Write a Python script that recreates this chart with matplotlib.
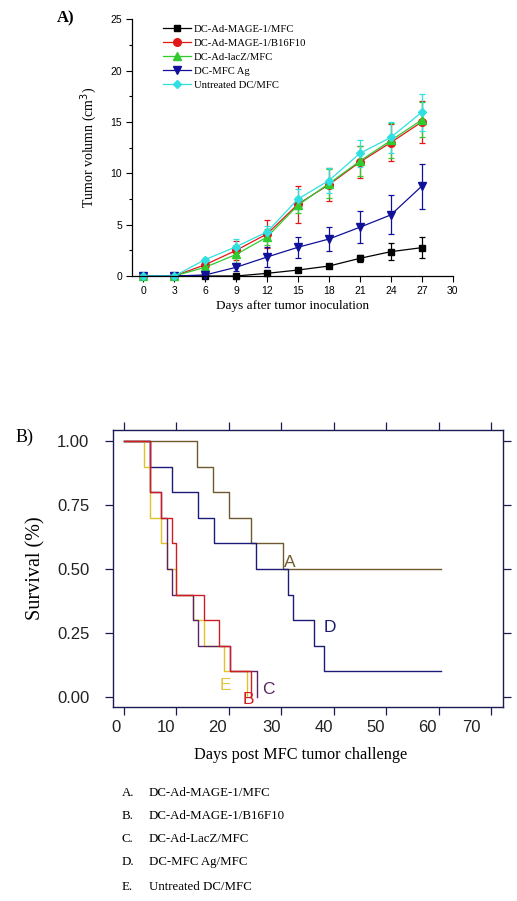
import matplotlib
matplotlib.use("Agg")
import matplotlib.pyplot as plt
import matplotlib.transforms as mtransforms
from matplotlib.lines import Line2D
import numpy as np

# ---------------- Panel A data ----------------
days = [0, 3, 6, 9, 12, 15, 18, 21, 24, 27]
series_names = ["DC-Ad-MAGE-1/MFC", "DC-Ad-MAGE-1/B16F10", "DC-Ad-lacZ/MFC",
                "DC-MFC Ag", "Untreated DC/MFC"]
mage_mfc = [0, 0, 0, 0, 0.26, 0.58, 0.97, 1.72, 2.37, 2.76]
mage_mfc_err = [0, 0, 0, 0, 0.1, 0.15, 0.2, 0.37, 0.8, 1.0]
mage_b16 = [0, 0, 1.1, 2.5, 4.1, 7.0, 8.9, 11.1, 13.0, 15.0]
mage_b16_err = [0, 0, 0.3, 0.9, 1.4, 1.8, 1.6, 1.6, 1.8, 2.0]
lacz = [0, 0, 0.85, 2.1, 3.8, 6.9, 9.0, 11.2, 13.2, 15.2]
lacz_err = [0, 0, 0.3, 0.9, 0.8, 0.8, 1.4, 1.5, 1.7, 1.7]
mfc_ag = [0, 0, 0.1, 0.85, 1.85, 2.8, 3.6, 4.75, 5.95, 8.75]
mfc_ag_err = [0, 0, 0.1, 0.4, 1.0, 1.0, 1.2, 1.55, 1.9, 2.2]
untreated = [0, 0, 1.6, 2.85, 4.3, 7.5, 9.3, 11.95, 13.5, 15.95]
untreated_err = [0, 0, 0.2, 0.8, 0.6, 1.0, 1.2, 1.3, 1.5, 1.8]

# ---------------- Panel B data ----------------
A_t = [0, 14, 17, 20, 24.3, 30.3, 60.5]
A_s = [1.0, 0.9, 0.8, 0.7, 0.6, 0.5, 0.5]
B_t = [0, 5, 7, 9.1, 10, 15.3, 18.1, 20.2, 24.2]
B_s = [1.0, 0.8, 0.7, 0.6, 0.4, 0.3, 0.2, 0.1, 0.0]
C_t = [0, 5, 7.1, 8.2, 9.1, 13.2, 14.1, 20.2, 25.3]
C_s = [1.0, 0.8, 0.7, 0.5, 0.4, 0.3, 0.2, 0.1, 0.0]
D_t = [0, 5, 9.1, 14.1, 17.2, 25.2, 31.2, 32.2, 36.2, 38.1, 60.5]
D_s = [1.0, 0.9, 0.8, 0.7, 0.6, 0.5, 0.4, 0.3, 0.2, 0.1, 0.1]
E_t = [0, 3.9, 5, 7.1, 8.2, 10, 13.2, 15.3, 19.1, 23.5]
E_s = [1.0, 0.9, 0.7, 0.6, 0.5, 0.4, 0.3, 0.2, 0.1, 0.0]
curve_letters = ["A", "B", "C", "D", "E"]
legend_names = ["DC-Ad-MAGE-1/MFC", "DC-Ad-MAGE-1/B16F10", "DC-Ad-LacZ/MFC",
                "DC-MFC Ag/MFC", "Untreated DC/MFC"]
x_ticks_B = [0, 10, 20, 30, 40, 50, 60, 70]
y_ticks_B = [0.0, 0.25, 0.5, 0.75, 1.0]

W, H = 517, 901
fig = plt.figure(figsize=(W / 100, H / 100), dpi=100)
serif = "Liberation Serif"
sans = "Liberation Sans"

def fx(px):
    return px / W

def fy(py):
    return 1 - py / H

# ================= Panel A =================
axA = fig.add_axes([fx(131.7), fy(276), fx(452.7) - fx(131.7), fy(19.3) - fy(276)])
colorsA = ["#000000", "#e01818", "#2ecc2e", "#10109a", "#30e0e0"]
markers = ["s", "o", "^", "v", "D"]
msizes = [5, 5.5, 5.5, 5.5, 4.5]
ys = [mage_mfc, mage_b16, lacz, mfc_ag, untreated]
errs = [mage_mfc_err, mage_b16_err, lacz_err, mfc_ag_err, untreated_err]
handles = []
for name, y, e, c, m, ms in zip(series_names, ys, errs, colorsA, markers, msizes):
    axA.errorbar(days, y, yerr=e, color=c, marker=m, markersize=ms, lw=0.9,
                 elinewidth=0.9, capsize=2.5, capthick=0.9, clip_on=False)
    handles.append(Line2D([], [], color=c, marker=m, markersize=ms, lw=0.9, label=name))
axA.set_xlim(-1.13, 30)
axA.set_ylim(0, 25)
axA.set_xticks(list(range(0, 31, 3)))
axA.set_yticks([0, 5, 10, 15, 20, 25])
axA.set_yticks(np.arange(2.5, 25, 5), minor=True)
for s in ["top", "right"]:
    axA.spines[s].set_visible(False)
for s in ["left", "bottom"]:
    axA.spines[s].set_linewidth(0.9)
axA.tick_params(direction="out", length=4, width=0.8, labelsize=7.5, pad=3)
axA.tick_params(which="minor", direction="out", length=2.5, width=0.8)
for lab in axA.get_xticklabels() + axA.get_yticklabels():
    lab.set_fontfamily(sans)
axA.set_xlabel("Days after tumor inoculation", fontfamily=serif, fontsize=9.5, labelpad=3)
axA.set_ylabel("Tumor volumn (cm$^3$)", fontfamily=serif, fontsize=10, labelpad=8)
leg = axA.legend(handles=handles, loc="upper left", bbox_to_anchor=(fx(163), fy(24.5)),
                 bbox_transform=fig.transFigure, frameon=False,
                 prop={"family": serif, "size": 7.7}, handlelength=2.6,
                 handletextpad=0.3, labelspacing=0.42, borderpad=0, borderaxespad=0)
fig.text(fx(57), fy(18), "A)", fontfamily=serif, fontweight="bold", fontsize=12,
         va="center", ha="left")

# ================= Panel B =================
axB = fig.add_axes([fx(113), fy(707), fx(503) - fx(113), fy(430) - fy(707)])
colorsB = ["#6e5a2e", "#d01c24", "#5a2466", "#1c1c78", "#e2c22a"]
label_colors = ["#6e5a2e", "#d01c24", "#5a2466", "#1c1c78", "#e0c440"]
tt = [A_t, B_t, C_t, D_t, E_t]
ss = [A_s, B_s, C_s, D_s, E_s]
order = [0, 3, 4, 2, 1]
for i in order:
    axB.step(tt[i], ss[i], where="post", color=colorsB[i], lw=1.0)
lab_pos = [(31.7, 0.527), (23.8, -0.01), (27.6, 0.03), (39.3, 0.27), (19.4, 0.045)]
for letter, (x, y), c in zip(curve_letters, lab_pos, label_colors):
    axB.text(x, y, letter, color=c, fontfamily=sans, fontsize=12.5, ha="center", va="center")
axB.set_xlim(-2.1, 72.3)
axB.set_ylim(-0.039, 1.043)
axB.set_xticks(x_ticks_B)
axB.set_yticks(y_ticks_B)
axB.set_yticklabels(["%.2f" % v for v in y_ticks_B])
spine_c = "#1a1a55"
for s in axB.spines.values():
    s.set_color(spine_c)
    s.set_linewidth(1.0)
axB.tick_params(direction="out", length=5.5, width=0.9, color=spine_c,
                top=True, right=True, labelsize=12, labelcolor="#222222")
axB.tick_params(axis="y", pad=11.5)
axB.tick_params(axis="x", pad=3.5)
xoffs = [-8, -10, -11, -10, -10, -10, -11, -20]
for lab, off in zip(axB.get_xticklabels(), xoffs):
    lab.set_fontfamily(sans)
    lab.set_transform(lab.get_transform() +
                      mtransforms.ScaledTranslation(off / 100, 0, fig.dpi_scale_trans))
for lab in axB.get_yticklabels():
    lab.set_fontfamily(sans)
axB.set_ylabel("Survival (%)", fontfamily=serif, fontsize=14.5, labelpad=8)
fig.text(fx(301), fy(755), "Days post MFC tumor challenge", fontfamily=serif,
         fontsize=11.7, ha="center", va="center")
fig.text(fx(16), fy(437), "B)", fontfamily=serif, fontsize=13, ha="left", va="center")

rows = [793, 816, 839, 862, 887]
for letter, name, r in zip(curve_letters, legend_names, rows):
    fig.text(fx(122), fy(r), letter + ".", fontfamily=serif, fontsize=9.3, va="center")
    fig.text(fx(149), fy(r), name, fontfamily=serif, fontsize=9.3, va="center")

fig.savefig("out.png", dpi=100)
